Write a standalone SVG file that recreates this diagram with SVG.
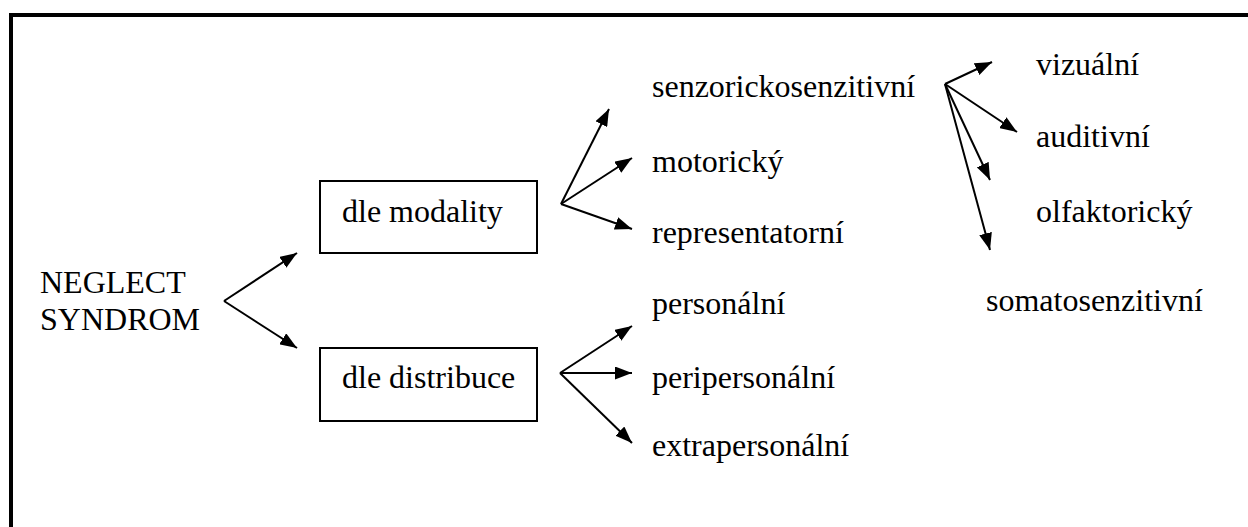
<svg xmlns="http://www.w3.org/2000/svg" width="1248" height="527" viewBox="0 0 1248 527">
<style>
text{font-family:'Liberation Serif','Times New Roman',Times,'DejaVu Serif',serif;font-size:32px;fill:#000}
.box{fill:#fff;stroke:#000;stroke-width:2}
.c{stroke:#000;stroke-width:2;fill:none;marker-end:url(#ah)}
</style>
<defs>
<marker id="ah" markerUnits="userSpaceOnUse" viewBox="0 0 17 13" refX="17" refY="6.5" markerWidth="17" markerHeight="13" orient="auto">
<path d="M0,0 L17,6.5 L0,13 z" fill="#000"/>
</marker>
</defs>
<rect width="1248" height="527" fill="#fff"/>
<path d="M11,527 V15 H1248" fill="none" stroke="#000" stroke-width="4"/>
<g id="connectors">
<line class="c" x1="224" y1="301" x2="297" y2="253"/>
<line class="c" x1="224" y1="301" x2="297" y2="348"/>
<line class="c" x1="561" y1="204" x2="609" y2="109"/>
<line class="c" x1="561" y1="204" x2="632" y2="158"/>
<line class="c" x1="561" y1="204" x2="632" y2="229"/>
<line class="c" x1="560" y1="373" x2="632" y2="326"/>
<line class="c" x1="560" y1="373" x2="632" y2="373"/>
<line class="c" x1="560" y1="373" x2="632" y2="443"/>
<line class="c" x1="945" y1="84" x2="992" y2="62"/>
<line class="c" x1="945" y1="84" x2="1017" y2="132"/>
<line class="c" x1="945" y1="84" x2="990" y2="180"/>
<line class="c" x1="945" y1="84" x2="990" y2="250"/>
</g>
<g id="neglect"><text x="40" y="293">NEGLECT</text><text x="40" y="330">SYNDROM</text></g>
<g id="modalita"><rect class="box" x="320" y="181" width="217" height="72"/><text x="342" y="222">dle modality</text></g>
<g id="distribuce"><rect class="box" x="320" y="348" width="217" height="73"/><text x="342" y="388">dle distribuce</text></g>
<g id="senzoricko"><text x="652" y="97">senzorickosenzitivní</text></g>
<g id="motoricky"><text x="652" y="172">motorický</text></g>
<g id="representatorni"><text x="652" y="243">representatorní</text></g>
<g id="personalni"><text x="652" y="314">personální</text></g>
<g id="peripersonalni"><text x="652" y="388">peripersonální</text></g>
<g id="extrapersonalni"><text x="652" y="456">extrapersonální</text></g>
<g id="vizualni"><text x="1036" y="75">vizuální</text></g>
<g id="auditivni"><text x="1036" y="147">auditivní</text></g>
<g id="olfaktoricky"><text x="1036" y="222">olfaktorický</text></g>
<g id="somatosenzitivni"><text x="986" y="311">somatosenzitivní</text></g>
</svg>
